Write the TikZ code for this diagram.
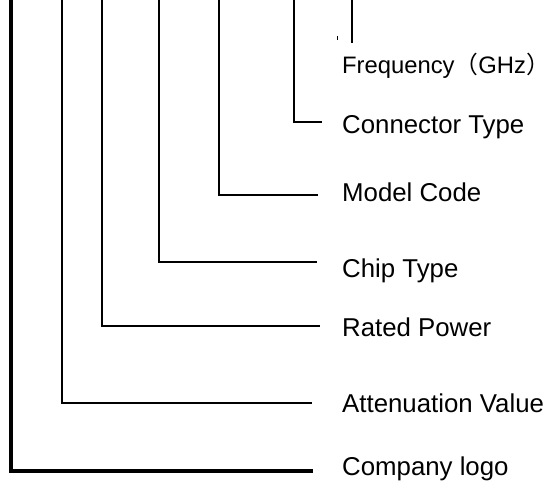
\documentclass[tikz,border=0pt]{standalone}
\usepackage{fontspec}
\setmainfont{Liberation Sans}
\newfontfamily\cjk{Noto Sans CJK SC}

\begin{document}
\begin{tikzpicture}[x=1pt,y=-1pt,line cap=rect,
  code label/.style={anchor=base west,inner sep=0pt,font=\fontsize{25.8}{30}\selectfont}]
  \useasboundingbox (0,0) rectangle (551,483);

  % labels
  \node[code label,font=\fontsize{23.8}{30}\selectfont] (freq) at (342,73)
    {Frequency{\cjk（}GHz{\cjk）}};
  \node[code label] (conn) at (342,133) {Connector Type};
  \node[code label] (model) at (342,201) {Model Code};
  \node[code label] (chip) at (342,277) {Chip Type};
  \node[code label] (power) at (342,336) {Rated Power};
  \node[code label] (atten) at (342,412) {Attenuation Value};
  \node[code label] (logo) at (342,475) {Company logo};

  % line tops and ends
  \coordinate (freq top) at (352,0);
  \coordinate (freq end) at (352,42);
  \coordinate (conn top) at (294,0);
  \coordinate (conn end) at (321,122);
  \coordinate (model top) at (219,0);
  \coordinate (model end) at (317,195);
  \coordinate (chip top) at (159,0);
  \coordinate (chip end) at (316,262);
  \coordinate (power top) at (102,0);
  \coordinate (power end) at (319,326);
  \coordinate (atten top) at (62,0);
  \coordinate (atten end) at (311,403);
  \coordinate (logo top) at (11,0);
  \coordinate (logo end) at (311,471);
  \coordinate (dot a) at (337,36);
  \coordinate (dot b) at (337,40);

  \draw[line width=1.3pt] (freq top) -- (freq end);
  \draw[line width=1.2pt] (conn top) |- (conn end);
  \draw[line width=1.5pt] (model top) |- (model end);
  \draw[line width=2.5pt] (chip top) |- (chip end);
  \draw[line width=1.5pt] (power top) |- (power end);
  \draw[line width=2.2pt] (atten top) |- (atten end);
  \draw[line width=3.2pt] (logo top) |- (logo end);
  \draw[line width=0.8pt,line cap=butt] (dot a) -- (dot b);

\end{tikzpicture}
\end{document}
